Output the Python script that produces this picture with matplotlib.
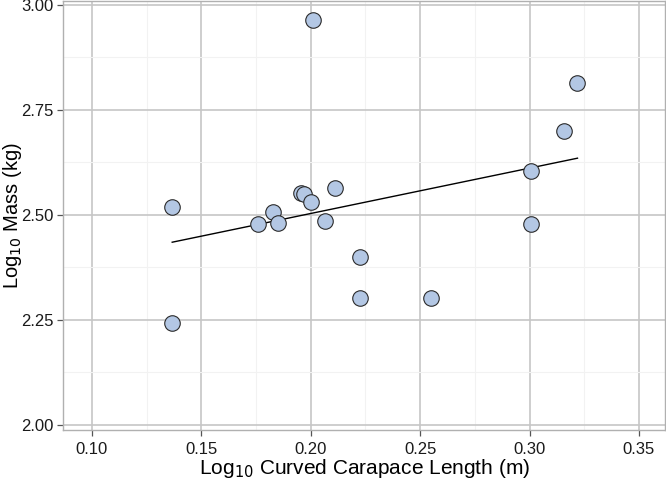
import matplotlib
matplotlib.use("Agg")
import matplotlib.pyplot as plt
from matplotlib.ticker import MultipleLocator

plt.rcParams['font.family'] = ['Liberation Sans', 'DejaVu Sans']

# log10 curved carapace length (m) and log10 mass (kg)
log_ccl = [0.2009, 0.1367, 0.1757, 0.1826, 0.1852, 0.1957, 0.1970, 0.2001,
           0.2064, 0.2110, 0.2227, 0.2227, 0.2549, 0.3008, 0.3008, 0.3157,
           0.3219, 0.1367]
log_mass = [2.963, 2.519, 2.478, 2.507, 2.480, 2.551, 2.549, 2.530,
            2.486, 2.563, 2.399, 2.302, 2.302, 2.604, 2.478, 2.700,
            2.814, 2.243]

# fitted line ends
fit_x = [0.1367, 0.3219]
fit_y = [2.435, 2.635]

fig = plt.figure(figsize=(6.66, 4.79), dpi=100)
ax = fig.add_axes([0.0946, 0.1023, 0.9046, 0.8946])

ax.plot(fit_x, fit_y, color='black', lw=1.0, zorder=3)
ax.scatter(log_ccl, log_mass, s=125, c='#b3c7e4', edgecolors='#2a2a2a',
           linewidths=0.8, zorder=4)

ax.set_xlim(0.0868, 0.3621)
ax.set_ylim(1.988, 3.008)
ax.xaxis.set_major_locator(MultipleLocator(0.05))
ax.yaxis.set_major_locator(MultipleLocator(0.25))
ax.xaxis.set_minor_locator(MultipleLocator(0.025))
ax.yaxis.set_minor_locator(MultipleLocator(0.125))
ax.xaxis.set_major_formatter(plt.FormatStrFormatter('%.2f'))
ax.yaxis.set_major_formatter(plt.FormatStrFormatter('%.2f'))

ax.grid(True, which='major', color='#c6c6c6', lw=1.2, zorder=0)
ax.grid(True, which='minor', color='#f2f2f2', lw=0.8, zorder=0)
ax.set_axisbelow(True)
for sp in ax.spines.values():
    sp.set_color('#b0b0b0')
    sp.set_linewidth(1.0)
ax.tick_params(which='major', length=4.5, width=0.9, color='#555555',
               labelsize=12, labelcolor='#1a1a1a')
ax.tick_params(axis='x', pad=4.5)
ax.tick_params(axis='y', pad=2.5)
ax.tick_params(which='minor', length=0)

ax.set_xlabel('Log$_{10}$ Curved Carapace Length (m)', fontsize=15)
ax.set_ylabel('Log$_{10}$ Mass (kg)', fontsize=14.5)
ax.xaxis.set_label_coords(0.5, -0.062)
ax.yaxis.set_label_coords(-0.065, 0.5)

fig.savefig('out.png', dpi=100)
